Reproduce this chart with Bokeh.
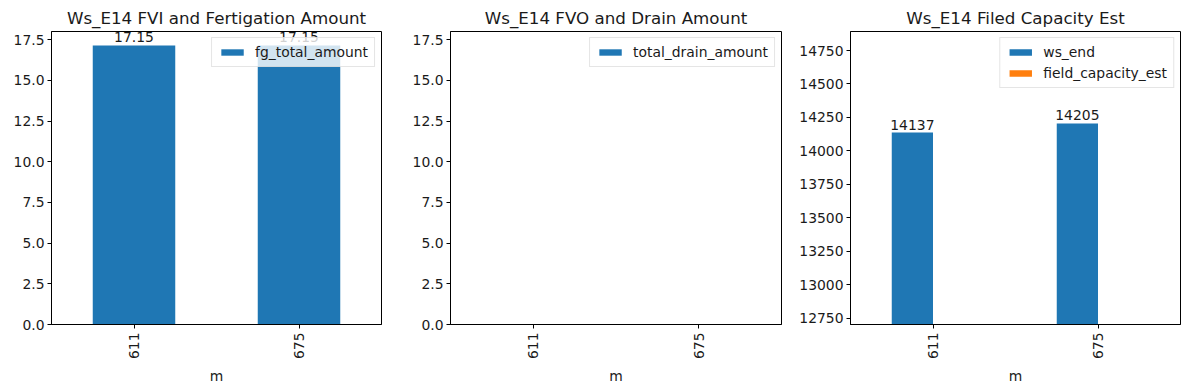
import math
from bokeh.plotting import figure
from bokeh.layouts import row
from bokeh.models import ColumnDataSource, FactorRange, Range1d, FixedTicker, Legend, LegendItem, CustomJSTickFormatter
from bokeh.transform import dodge
from bokeh.core.properties import value
from bokeh.embed import file_html
from bokeh.resources import INLINE

m = ["611", "675"]
fg_total_amount = [17.15, 17.15]
total_drain_amount = [0.0, 0.0]
ws_end = [14137, 14205]
field_capacity_est = [0.0, 0.0]

titles = ["Ws_E14 FVI and Fertigation Amount", "Ws_E14 FVO and Drain Amount", "Ws_E14 Filed Capacity Est"]
ticks_12 = [0.0, 2.5, 5.0, 7.5, 10.0, 12.5, 15.0, 17.5]
ticks_3 = [12750, 13000, 13250, 13500, 13750, 14000, 14250, 14500, 14750]

BLUE = "#1f77b4"
ORANGE = "#ff7f0e"
FONT = "DejaVu Sans"
FS = "13.9px"
TXT = "#1a1a1a"


def make_fig(title, width, left, right, y0, y1, ticks, fmt):
    p = figure(x_range=FactorRange(*m), y_range=Range1d(y0, y1), width=width, height=390,
               output_backend="svg", toolbar_location=None,
               min_border_left=left, min_border_right=right, min_border_top=31, min_border_bottom=66)
    p.title.text = title
    p.title.align = "center"
    p.title.text_font = FONT
    p.title.text_font_size = "16.7px"
    p.title.text_font_style = "normal"
    p.title.text_color = TXT
    p.title.standoff = 7
    p.xgrid.visible = False
    p.ygrid.visible = False
    p.outline_line_color = "black"
    p.outline_line_width = 1
    p.outline_line_alpha = 1
    for ax in (p.xaxis[0], p.yaxis[0]):
        ax.axis_line_color = "black"
        ax.major_tick_line_color = "black"
        ax.major_tick_out = 4
        ax.major_tick_in = 0
        ax.minor_tick_line_color = None
        ax.major_label_text_font = FONT
        ax.major_label_text_font_size = FS
        ax.major_label_text_color = TXT
    p.yaxis[0].ticker = FixedTicker(ticks=ticks)
    p.yaxis[0].formatter = CustomJSTickFormatter(code=fmt)
    p.xaxis[0].major_label_orientation = math.pi / 2
    p.xaxis[0].axis_label = "m"
    p.xaxis[0].axis_label_text_font = FONT
    p.xaxis[0].axis_label_text_font_size = FS
    p.xaxis[0].axis_label_text_font_style = "normal"
    p.xaxis[0].axis_label_text_color = TXT
    p.xaxis[0].axis_label_standoff = 6
    p.xaxis[0].major_label_standoff = 4
    p.yaxis[0].major_label_standoff = 3
    return p


def style_legend(p, items):
    leg = Legend(items=items, location="top_right")
    leg.label_text_font = FONT
    leg.label_text_font_size = FS
    leg.label_text_color = TXT
    leg.glyph_width = 28
    leg.glyph_height = 8
    leg.label_height = 16
    leg.border_line_color = "#cccccc"
    leg.background_fill_alpha = 0.8
    leg.margin = 6
    leg.padding = 6
    leg.spacing = 5
    leg.label_standoff = 9
    p.add_layout(leg)


fmt1 = "return tick.toFixed(1);"
fmt3 = "return tick.toFixed(0);"

# Panel 1
src1 = ColumnDataSource(dict(m=m, v=fg_total_amount, lab=["%.2f" % v for v in fg_total_amount]))
p1 = make_fig(titles[0], 400, 51, 19, 0, max(fg_total_amount) * 1.05, ticks_12, fmt1)
r1 = p1.vbar(x="m", top="v", bottom=0, width=0.5, source=src1, fill_color=BLUE, line_color=BLUE, line_width=0)
p1.text(x="m", y="v", text="lab", source=src1, text_align="center", text_baseline="alphabetic",
        text_font=value(FONT), text_font_size=FS, text_color=TXT, y_offset=-8)
style_legend(p1, [LegendItem(label="fg_total_amount", renderers=[r1])])

# Panel 2
src2 = ColumnDataSource(dict(m=m, v=total_drain_amount))
p2 = make_fig(titles[1], 396, 50, 15, 0, max(fg_total_amount) * 1.05, ticks_12, fmt1)
r2 = p2.vbar(x="m", top="v", bottom=0, width=0.5, source=src2, fill_color=BLUE, line_alpha=0)
style_legend(p2, [LegendItem(label="total_drain_amount", renderers=[r2])])

# Panel 3
src3 = ColumnDataSource(dict(m=m, ws=ws_end, fc=field_capacity_est, lab=[str(v) for v in ws_end]))
p3 = make_fig(titles[2], 393, 54, 9, 12703, 14892, ticks_3, fmt3)
r3a = p3.vbar(x=dodge("m", -0.125, range=p3.x_range), top="ws", bottom=0, width=0.25, source=src3,
              fill_color=BLUE, line_color=BLUE, line_width=0)
r3b = p3.vbar(x=dodge("m", 0.125, range=p3.x_range), top="fc", bottom=0, width=0.25, source=src3,
              fill_color=ORANGE, line_alpha=0)
p3.text(x=dodge("m", -0.125, range=p3.x_range), y="ws", text="lab", source=src3, text_align="center",
        text_baseline="alphabetic", text_font=value(FONT), text_font_size=FS, text_color=TXT, y_offset=-8)
style_legend(p3, [LegendItem(label="ws_end", renderers=[r3a]), LegendItem(label="field_capacity_est", renderers=[r3b])])

layout = row(p1, p2, p3)
open("out.html", "w").write(file_html(layout, INLINE))
